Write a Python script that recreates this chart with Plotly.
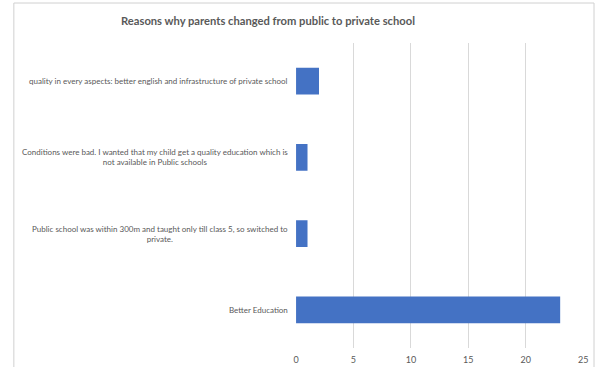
import plotly.graph_objects as go

# Survey responses: reasons for moving from a public to a private school
reasons = [
    "Better Education",
    "Public school was within 300m and taught only till class 5, so switched to<br>private.",
    "Conditions were bad. I wanted that my child get a quality education which is<br>not available in Public schools",
    "quality in every aspects: better english and infrastructure of private school",
]
counts = [23, 1, 1, 2]
x_ticks = [0, 5, 10, 15, 20, 25]

W, H = 599, 367
# plot area in pixels
px_left, px_right = 297, 588
px_top, px_bottom = 43, 348

grey_text = "#595959"
font_family = "Lato, 'Open Sans', sans-serif"

fig = go.Figure()
fig.add_trace(go.Bar(
    y=list(range(len(reasons))),
    x=counts,
    orientation="h",
    width=0.35,
    marker=dict(color="#4472C4", line=dict(width=0)),
    hoverinfo="x",
))

# category labels, centred multi-line text right-aligned against the axis
annotations = []
for i, label in enumerate(reasons):
    annotations.append(dict(
        x=(px_left - 6) / W, xref="paper", xanchor="right",
        y=i, yref="y", yanchor="middle",
        text=label, showarrow=False, align="center",
        font=dict(family=font_family, size=8, color=grey_text),
    ))

annotations.append(dict(
    x=269 / W, xref="paper", xanchor="center",
    y=1 - 20 / H, yref="paper", yanchor="middle",
    text="<b>Reasons why parents changed from public to private school</b>",
    showarrow=False,
    font=dict(family=font_family, size=11.2, color=grey_text),
))

fig.update_layout(
    width=W, height=H,
    margin=dict(l=0, r=0, t=0, b=0),
    paper_bgcolor="white", plot_bgcolor="white",
    showlegend=False,
    bargap=0.65,
    annotations=annotations,
    xaxis=dict(
        domain=[px_left / W, px_right / W],
        range=[0, 25],
        tickvals=x_ticks,
        ticktext=[str(v) for v in x_ticks],
        showgrid=True, gridcolor="#d9d9d9", gridwidth=1,
        zeroline=False, showline=False,
        ticks="", ticklabelstandoff=5,
        tickfont=dict(family=font_family, size=9, color=grey_text),
        fixedrange=True,
    ),
    yaxis=dict(
        domain=[1 - px_bottom / H, 1 - px_top / H],
        range=[-0.5, len(reasons) - 0.5],
        showticklabels=False, showgrid=False,
        zeroline=False, showline=False, ticks="",
        fixedrange=True,
    ),
    shapes=[dict(
        type="rect", xref="paper", yref="paper",
        x0=11 / W, x1=599 / W, y0=-0.01, y1=1 - 3 / H,
        line=dict(color="#d0d0d0", width=1),
        fillcolor="rgba(0,0,0,0)", layer="below",
    )],
)

fig.write_html("out.html")
